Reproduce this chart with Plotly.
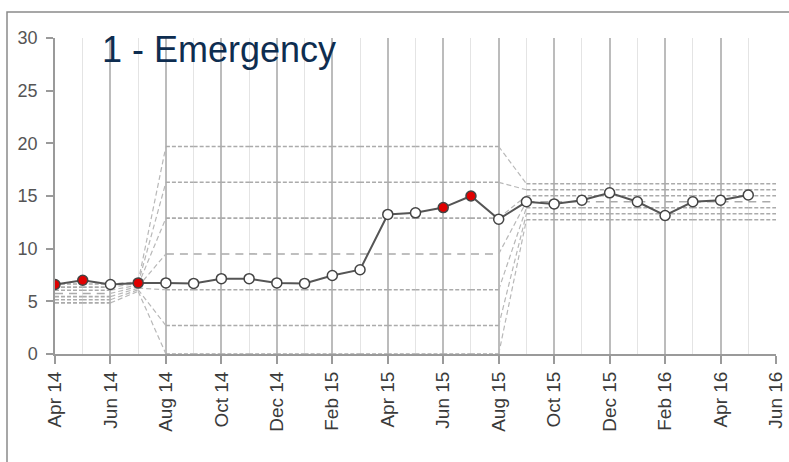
import plotly.graph_objects as go

# ---- data ----
months = ["Apr 14", "May 14", "Jun 14", "Jul 14", "Aug 14", "Sep 14", "Oct 14", "Nov 14",
          "Dec 14", "Jan 15", "Feb 15", "Mar 15", "Apr 15", "May 15", "Jun 15", "Jul 15",
          "Aug 15", "Sep 15", "Oct 15", "Nov 15", "Dec 15", "Jan 16", "Feb 16", "Mar 16",
          "Apr 16", "May 16", "Jun 16"]
values = [6.6, 7.0, 6.6, 6.75, 6.75, 6.7, 7.15, 7.15, 6.75, 6.7, 7.45, 8.0, 13.25,
          13.4, 13.9, 15.0, 12.8, 14.45, 14.25, 14.6, 15.3, 14.45, 13.15, 14.45, 14.6, 15.1]
flagged = ["Apr 14", "May 14", "Jul 14", "Jun 15", "Jul 15"]

phase_start = ["Apr 14", "Jul 14", "Aug 14", "Sep 15"]
phase_center = [5.75, 6.4, 9.5, 14.45]
phase_sigma = [0.3, 0.15, 3.4, 0.57]

title_text = "1 - Emergency"

# ---- build ----
idx = list(range(len(months)))
starts = [months.index(m) for m in phase_start]
phase_of = []
for i in idx:
    p = 0
    for j, s in enumerate(starts):
        if i >= s:
            p = j
    phase_of.append(p)

fig = go.Figure()
LIM = "#ababab"
for k in [3, 2, 1, 0, -1, -2, -3]:
    yv = [max(0.0, phase_center[phase_of[i]] + k * phase_sigma[phase_of[i]]) for i in idx]
    hx, hy, tx, ty = [], [], [], []
    for i in idx[:-1]:
        if phase_of[i] == phase_of[i + 1]:
            hx += [i, i + 1, None]
            hy += [yv[i], yv[i + 1], None]
        else:
            tx += [i, i + 1, None]
            ty += [yv[i], yv[i + 1], None]
    fig.add_trace(go.Scatter(x=tx, y=ty, mode="lines", hoverinfo="skip",
                             line=dict(color="#b8b8b8", width=1.2, dash="5px,3px"),
                             showlegend=False))
    fig.add_trace(go.Scatter(x=hx, y=hy, mode="lines", hoverinfo="skip",
                             line=dict(color=LIM, width=1.6,
                                       dash="8px,6px" if k == 0 else "4px,2px"),
                             showlegend=False))

xs = idx[:len(values)]
fill = ["#e00000" if months[i] in flagged else "#ffffff" for i in xs]
fig.add_trace(go.Scatter(x=xs, y=values, mode="lines+markers", showlegend=False,
                         line=dict(color="#555555", width=2),
                         marker=dict(size=10, color=fill,
                                     line=dict(color="#444444", width=1.5))))

L, R, T, B = 55, 13, 38, 108
W, H = 789, 462
pw, ph = W - L - R, H - T - B

def px_x(p):
    return (p - L) / pw

def px_y(p):
    return (H - B - p) / ph

fig.add_annotation(text=title_text, xref="paper", yref="paper",
                   x=px_x(100), y=px_y(50), xanchor="left", yanchor="middle",
                   showarrow=False,
                   font=dict(family="Liberation Sans, Arial, sans-serif", size=36, color="#0e2d50"))

fig.add_shape(type="rect", xref="paper", yref="paper",
              x0=px_x(7), x1=px_x(820), y0=px_y(500), y1=px_y(12),
              line=dict(color="#8a8a8a", width=1.5), fillcolor="rgba(0,0,0,0)", layer="above")

fig.update_layout(
    width=W, height=H,
    margin=dict(l=L, r=R, t=T, b=B, autoexpand=False),
    paper_bgcolor="white", plot_bgcolor="white",
    xaxis=dict(range=[0, len(months) - 1], tickmode="array", automargin=False,
               tickvals=idx[::2], ticktext=months[::2], tickangle=-90,
               showgrid=True, gridcolor="#bcbcbc", gridwidth=1.5,
               minor=dict(tickmode="array", tickvals=idx[1::2], showgrid=True,
                          gridcolor="#e4e4e4", gridwidth=1.2, ticks=""),
               showline=True, linecolor="#9a9a9a", linewidth=2,
               ticks="outside", ticklen=8, tickcolor="#9a9a9a", tickwidth=1.5,
               tickfont=dict(family="Liberation Sans, Arial, sans-serif", size=19, color="#3a3a3a"),
               zeroline=False),
    yaxis=dict(range=[0, 30], tickvals=[0, 5, 10, 15, 20, 25, 30], automargin=False,
               showgrid=False, zeroline=False, ticklabelstandoff=5,
               showline=True, linecolor="#9a9a9a", linewidth=1.5,
               ticks="outside", ticklen=7, tickcolor="#9a9a9a", tickwidth=1.5,
               tickfont=dict(family="Liberation Sans, Arial, sans-serif", size=18, color="#555555")),
)

fig.write_html("out.html", config={"displayModeBar": False},
               post_script="document.body.style.margin='0px';document.body.style.overflow='hidden';")
